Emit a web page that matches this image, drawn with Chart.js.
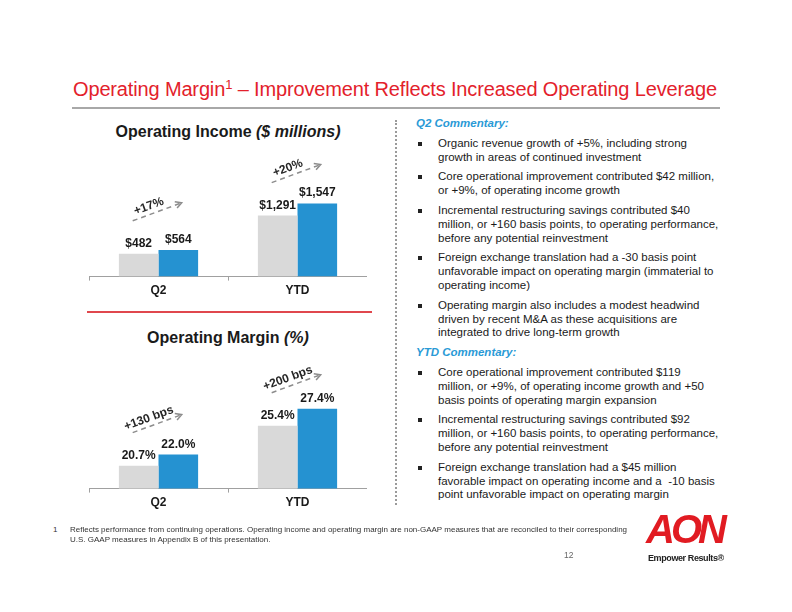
<!DOCTYPE html>
<html>
<head>
<meta charset="utf-8">
<script src="https://cdn.jsdelivr.net/npm/chart.js@4.4.1/dist/chart.umd.min.js"></script>
<style>
  html, body { margin: 0; padding: 0; background: #fff; }
  body { width: 792px; height: 612px; position: relative; overflow: hidden;
         font-family: Arial, "Liberation Sans", sans-serif; color: #1a1a1a; }
  .abs { position: absolute; }
  #title { left: 73px; top: 78px; font-size: 20px; letter-spacing: -0.15px; color: #e3212b; white-space: nowrap; }
  #title sup { font-size: 13px; vertical-align: 0; position: relative; top: -7px; }
  #rule { left: 72px; top: 107px; width: 648px; height: 2px; background: #a8a8a8; }
  .ctitle { width: 278px; left: 89px; text-align: center; font-weight: bold; font-size: 16px; white-space: nowrap; }
  #redline { left: 87px; top: 311px; width: 285px; height: 2px; background: #e0474d; }
  #vdots { left: 395px; top: 120px; height: 385px; border-left: 2px dotted #9a9a9a; }
  #comm { left: 416px; top: 117px; width: 330px; font-size: 11.5px; line-height: 13.8px; white-space: nowrap; }
  #comm .hd { color: #2a9ad6; font-weight: bold; font-style: italic; }
  #comm .bl { position: relative; padding-left: 22px; }
  #comm .bl::before { content: ''; position: absolute; left: 2px; top: 5px; width: 4px; height: 4px; background: #222; }
  #comm > div + div { margin-top: 6px; }
  #foot1 { left: 53px; top: 525px; font-size: 8px; line-height: 10px; color: #333; }
  #foot { left: 70px; top: 525px; font-size: 8px; line-height: 10px; color: #333; white-space: nowrap; }
  #page { left: 564px; top: 550px; font-size: 8.5px; color: #666; }
  #logo { left: 646px; top: 512px; font-size: 40px; line-height: 34px; height: 34px; font-weight: 900; font-style: italic; color: #e11b22; letter-spacing: -4px; }
  #tag { left: 648px; top: 553px; font-size: 9px; line-height: 11px; font-weight: bold; color: #222; white-space: nowrap; letter-spacing: -0.4px; }
</style>
</head>
<body>
<div id="title" class="abs">Operating Margin<sup>1</sup> – Improvement Reflects Increased Operating Leverage</div>
<div id="rule" class="abs"></div>

<div class="abs ctitle" style="top:123px;">Operating Income <i>($ millions)</i></div>
<canvas id="incomeChart" class="abs" style="left:89px; top:140px;" width="278" height="161"></canvas>

<div id="redline" class="abs"></div>

<div class="abs ctitle" style="top:329px;">Operating Margin <i>(%)</i></div>
<canvas id="marginChart" class="abs" style="left:89px; top:350px;" width="278" height="163"></canvas>

<div id="vdots" class="abs"></div>

<div id="comm" class="abs">
  <div class="hd">Q2 Commentary:</div>
  <div class="bl">Organic revenue growth of +5%, including strong<br>growth in areas of continued investment</div>
  <div class="bl">Core operational improvement contributed $42 million,<br>or +9%, of operating income growth</div>
  <div class="bl">Incremental restructuring savings contributed $40<br>million, or +160 basis points, to operating performance,<br>before any potential reinvestment</div>
  <div class="bl">Foreign exchange translation had a -30 basis point<br>unfavorable impact on operating margin (immaterial to<br>operating income)</div>
  <div class="bl">Operating margin also includes a modest headwind<br>driven by recent M&amp;A as these acquisitions are<br>integrated to drive long-term growth</div>
  <div class="hd">YTD Commentary:</div>
  <div class="bl">Core operational improvement contributed $119<br>million, or +9%, of operating income growth and +50<br>basis points of operating margin expansion</div>
  <div class="bl">Incremental restructuring savings contributed $92<br>million, or +160 basis points, to operating performance,<br>before any potential reinvestment</div>
  <div class="bl">Foreign exchange translation had a $45 million<br>favorable impact on operating income and a &nbsp;-10 basis<br>point unfavorable impact on operating margin</div>
</div>

<div id="foot1" class="abs">1</div>
<div id="foot" class="abs">Reflects performance from continuing operations. Operating income and operating margin are non-GAAP measures that are reconciled to their corresponding<br>U.S. GAAP measures in Appendix B of this presentation.</div>
<div id="page" class="abs">12</div>
<div id="logo" class="abs">AON</div>
<div id="tag" class="abs">Empower Results®</div>

<script>
// chart data
const categories = ['Q2', 'YTD'];
const incomePrior = [482, 1291];
const incomeCurrent = [564, 1547];
const incomeChange = ['+17%', '+20%'];
const marginPrior = [20.7, 25.4];
const marginCurrent = [22.0, 27.4];
const marginChange = ['+130 bps', '+200 bps'];

const FONT = 'Arial, "Liberation Sans", sans-serif';
const GREY = '#d9d9d9';
const BLUE = '#2592d1';

Chart.defaults.font.family = FONT;
Chart.defaults.animation = false;

// value labels over the bars plus the dashed growth arrows
function makeMarks(fmt, changes) {
    return {
        id: 'marks',
        afterDatasetsDraw(chart) {
            const ctx = chart.ctx;
            ctx.save();
            ctx.font = 'bold 12px ' + FONT;
            ctx.fillStyle = '#1a1a1a';
            ctx.textAlign = 'center';
            ctx.textBaseline = 'alphabetic';
            chart.data.datasets.forEach((ds, di) => {
                chart.getDatasetMeta(di).data.forEach((bar, i) => {
                    ctx.fillText(fmt(ds.data[i]), bar.x, bar.y - 7);
                });
            });

            const prior = chart.getDatasetMeta(0).data;
            changes.forEach((txt, i) => {
                const x0 = prior[i].x - 6, y0 = prior[i].y - 33;
                const x1 = x0 + 49, y1 = y0 - 18;
                const a = Math.atan2(y1 - y0, x1 - x0);

                ctx.strokeStyle = '#8c8c8c';
                ctx.lineWidth = 1.5;
                ctx.setLineDash([5, 4]);
                ctx.beginPath();
                ctx.moveTo(x0, y0);
                ctx.lineTo(x1 - 2 * Math.cos(a), y1 - 2 * Math.sin(a));
                ctx.stroke();
                ctx.setLineDash([]);
                ctx.beginPath();
                ctx.moveTo(x1 - 7 * Math.cos(a - 0.5), y1 - 7 * Math.sin(a - 0.5));
                ctx.lineTo(x1, y1);
                ctx.lineTo(x1 - 7 * Math.cos(a + 0.5), y1 - 7 * Math.sin(a + 0.5));
                ctx.stroke();

                ctx.save();
                ctx.translate((x0 + x1) / 2, (y0 + y1) / 2);
                ctx.rotate(a);
                ctx.fillStyle = '#262626';
                ctx.textBaseline = 'middle';
                ctx.fillText(txt, -6, -8);
                ctx.restore();
            });
            ctx.restore();
        }
    };
}

function barChart(id, prior, current, yMin, yMax, fmt, changes) {
    return new Chart(document.getElementById(id), {
        type: 'bar',
        data: {
            labels: categories,
            datasets: [
                { label: 'Prior', data: prior, backgroundColor: GREY },
                { label: 'Current', data: current, backgroundColor: BLUE }
            ]
        },
        options: {
            responsive: false,
            layout: { padding: 0 },
            datasets: { bar: { categoryPercentage: 0.57, barPercentage: 1.0, borderWidth: 0 } },
            plugins: { legend: { display: false }, tooltip: { enabled: false } },
            scales: {
                x: {
                    grid: { drawOnChartArea: false, drawTicks: true, tickLength: 4, color: '#a0a0a0' },
                    border: { display: true, color: '#a0a0a0' },
                    ticks: { color: '#1a1a1a', padding: 3, font: { size: 12, weight: 'bold' } }
                },
                y: { display: false, min: yMin, max: yMax }
            }
        },
        plugins: [makeMarks(fmt, changes)]
    });
}

barChart('incomeChart', incomePrior, incomeCurrent, 0, 2890,
    v => '$' + v.toLocaleString('en-US'), incomeChange);
barChart('marginChart', marginPrior, marginCurrent, 18, 34.3,
    v => v.toFixed(1) + '%', marginChange);
</script>
</body>
</html>
